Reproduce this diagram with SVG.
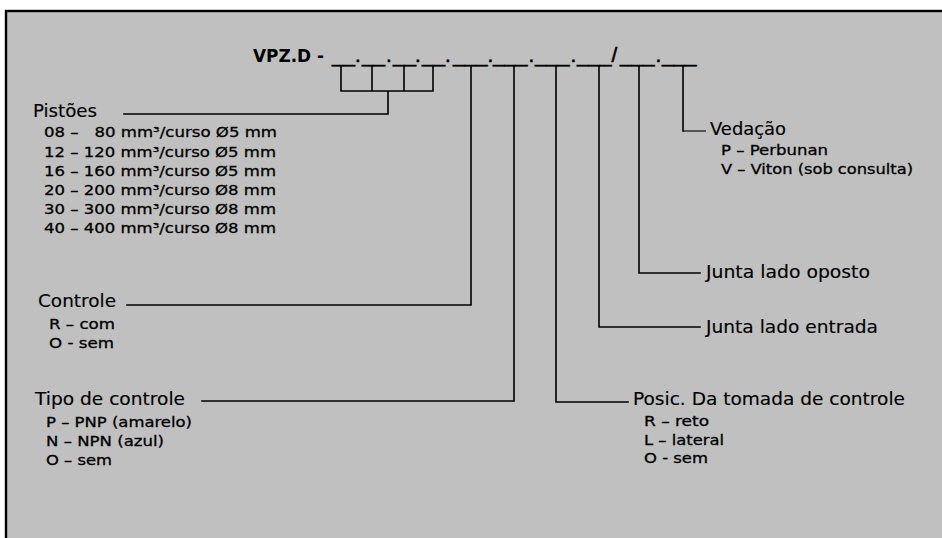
<svg xmlns="http://www.w3.org/2000/svg" width="942" height="538" viewBox="0 0 942 538">
<style>
  .lbl { font-family: "DejaVu Sans", Verdana, sans-serif; font-size: 17.5px; fill: #000; stroke: #000; stroke-width: 0.15; }
  .sub { font-family: "DejaVu Sans", Verdana, sans-serif; font-size: 14px; fill: #000; stroke: #000; stroke-width: 0.3; }
  .title { font-family: "DejaVu Sans", Verdana, sans-serif; font-size: 18px; font-weight: bold; fill: #000; }
  .code { font-family: "Liberation Sans", Arial, sans-serif; font-size: 20.7px; fill: #000; stroke: #000; stroke-width: 0.6; }
  .ln { stroke: #000; stroke-width: 1.6; fill: none; stroke-linecap: square; }
  .thin { stroke: #000; stroke-width: 1.1; fill: none; }
</style>
<rect x="0" y="0" width="942" height="538" fill="#ffffff"/>
<rect x="6" y="11" width="960" height="560" fill="#c0c0c0" stroke="#000" stroke-width="2.4"/>

<g id="title">
  <text class="title" x="253" y="62" textLength="71" lengthAdjust="spacingAndGlyphs">VPZ.D -</text>
  <text class="code" y="61.5"><tspan x="332">__</tspan><tspan x="355">.</tspan><tspan x="362">__</tspan><tspan x="386">.</tspan><tspan x="393">__</tspan><tspan x="415">.</tspan><tspan x="422">__</tspan><tspan x="445">.</tspan><tspan x="453">___</tspan><tspan x="487.5">.</tspan><tspan x="493">___</tspan><tspan x="528.5">.</tspan><tspan x="535">___</tspan><tspan x="570.5">.</tspan><tspan x="577">___</tspan><tspan x="611.5">/</tspan><tspan x="620">___</tspan><tspan x="655.5">.</tspan><tspan x="662">___</tspan></text>
</g>

<g id="connectors">
  <path class="ln" d="M341,66 V91 H433 V66 M372,66 V91 M404,66 V91 M388,91 V114 H124"/>
  <path class="ln" d="M471,66 V305 H127"/>
  <path class="ln" d="M514,66 V401 H202"/>
  <path class="ln" d="M556,66 V402 H628"/>
  <path class="ln" d="M599,66 V327 H700"/>
  <path class="ln" d="M639,66 V273 H700"/>
  <path class="ln" d="M683,66 V131"/>
  <path class="thin" d="M683,131 H706"/>
</g>

<g id="pistoes">
  <text class="lbl" x="33" y="117" textLength="64" lengthAdjust="spacingAndGlyphs">Pistões</text>
  <text class="sub" x="44" y="137" xml:space="preserve" textLength="233" lengthAdjust="spacingAndGlyphs">08 –   80 mm³/curso Ø5 mm</text>
  <text class="sub" x="44" y="156.5" textLength="232" lengthAdjust="spacingAndGlyphs">12 – 120 mm³/curso Ø5 mm</text>
  <text class="sub" x="44" y="176" textLength="232" lengthAdjust="spacingAndGlyphs">16 – 160 mm³/curso Ø5 mm</text>
  <text class="sub" x="44" y="195" textLength="232" lengthAdjust="spacingAndGlyphs">20 – 200 mm³/curso Ø8 mm</text>
  <text class="sub" x="44" y="214" textLength="232" lengthAdjust="spacingAndGlyphs">30 – 300 mm³/curso Ø8 mm</text>
  <text class="sub" x="44" y="233" textLength="232" lengthAdjust="spacingAndGlyphs">40 – 400 mm³/curso Ø8 mm</text>
</g>

<g id="controle">
  <text class="lbl" x="38" y="307" textLength="78" lengthAdjust="spacingAndGlyphs">Controle</text>
  <text class="sub" x="49" y="329" textLength="66" lengthAdjust="spacingAndGlyphs">R – com</text>
  <text class="sub" x="49" y="348" textLength="65" lengthAdjust="spacingAndGlyphs">O - sem</text>
</g>

<g id="tipo-controle">
  <text class="lbl" x="35" y="405" textLength="150" lengthAdjust="spacingAndGlyphs">Tipo de controle</text>
  <text class="sub" x="46" y="427" textLength="146" lengthAdjust="spacingAndGlyphs">P – PNP (amarelo)</text>
  <text class="sub" x="46" y="446" textLength="118" lengthAdjust="spacingAndGlyphs">N – NPN (azul)</text>
  <text class="sub" x="46" y="465" textLength="66" lengthAdjust="spacingAndGlyphs">O – sem</text>
</g>

<g id="posicao">
  <text class="lbl" x="633" y="405" textLength="272" lengthAdjust="spacingAndGlyphs">Posic. Da tomada de controle</text>
  <text class="sub" x="644" y="426" textLength="65" lengthAdjust="spacingAndGlyphs">R – reto</text>
  <text class="sub" x="644" y="444.5" textLength="80" lengthAdjust="spacingAndGlyphs">L – lateral</text>
  <text class="sub" x="644" y="463" textLength="64" lengthAdjust="spacingAndGlyphs">O - sem</text>
</g>

<g id="junta-entrada">
  <text class="lbl" x="706" y="333" textLength="172" lengthAdjust="spacingAndGlyphs">Junta lado entrada</text>
</g>

<g id="junta-oposto">
  <text class="lbl" x="706" y="278" textLength="164" lengthAdjust="spacingAndGlyphs">Junta lado oposto</text>
</g>

<g id="vedacao">
  <text class="lbl" x="710" y="135" textLength="76" lengthAdjust="spacingAndGlyphs">Vedação</text>
  <text class="sub" x="721" y="155" textLength="107" lengthAdjust="spacingAndGlyphs">P – Perbunan</text>
  <text class="sub" x="721" y="174" textLength="192" lengthAdjust="spacingAndGlyphs">V – Viton (sob consulta)</text>
</g>
</svg>
